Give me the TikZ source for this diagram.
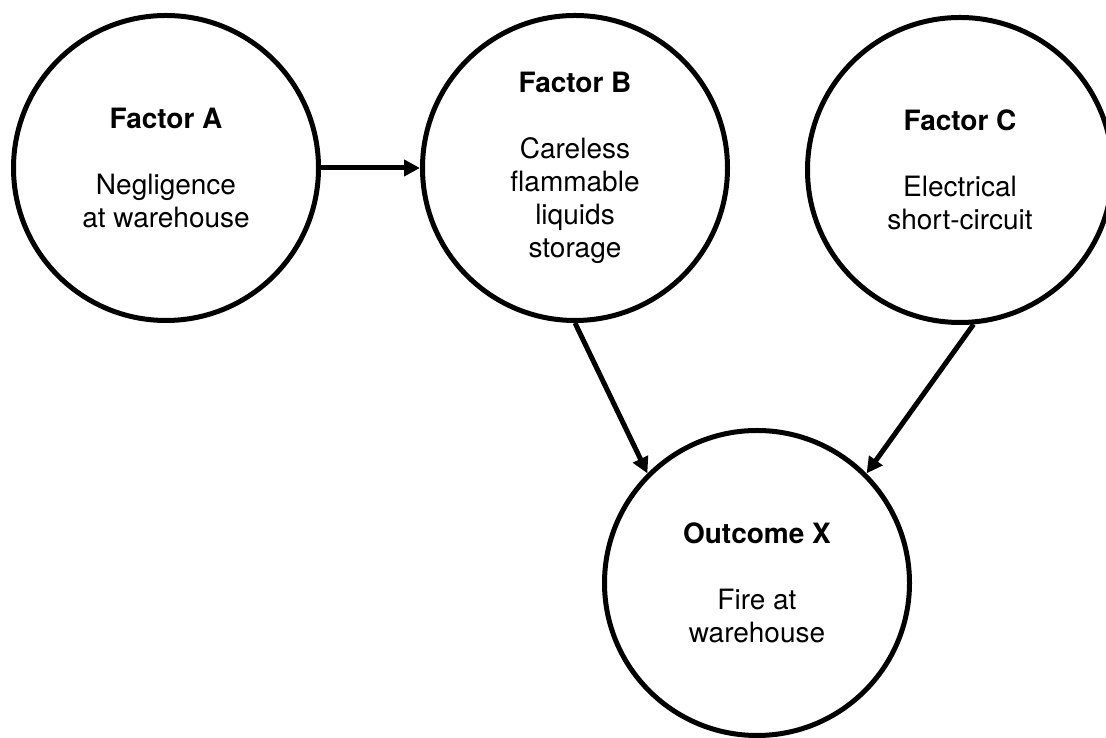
\documentclass[tikz,border=0pt]{standalone}
\usepackage{fontspec}
\setmainfont{TeX Gyre Heros}
\usepackage{tikz}
\usetikzlibrary{positioning}
\usetikzlibrary{arrows.meta}

\begin{document}
\begin{tikzpicture}[x=1pt,y=1pt,
    factor/.style={circle,draw,line width=5pt,minimum size=305pt,inner sep=0pt,
      align=center,font=\fontsize{28}{33}\selectfont},
    link/.style={line width=5pt,-{Triangle[length=16pt,width=16pt]}}]
            \useasboundingbox (0,0) rectangle (1106,738);

            \node[factor] (A) at (166,570) {\textbf{Factor A}\\[33pt]Negligence\\at warehouse};
            \node[factor] (B) at (575,570) {\textbf{Factor B}\\[33pt]Careless\\flammable\\liquids\\storage};
            \node[factor] (C) at (960,568) {\textbf{Factor C}\\[33pt]Electrical\\short-circuit};
            \node[factor] (X) at (757,155) {\textbf{Outcome X}\\[33pt]Fire at\\warehouse};

            \draw[link] (A.east) -- (B.west);
            \draw[link] (B.south) -- (X.135);
            \draw[link] (C.-85) -- (X.45);
          \end{tikzpicture}
\end{document}
